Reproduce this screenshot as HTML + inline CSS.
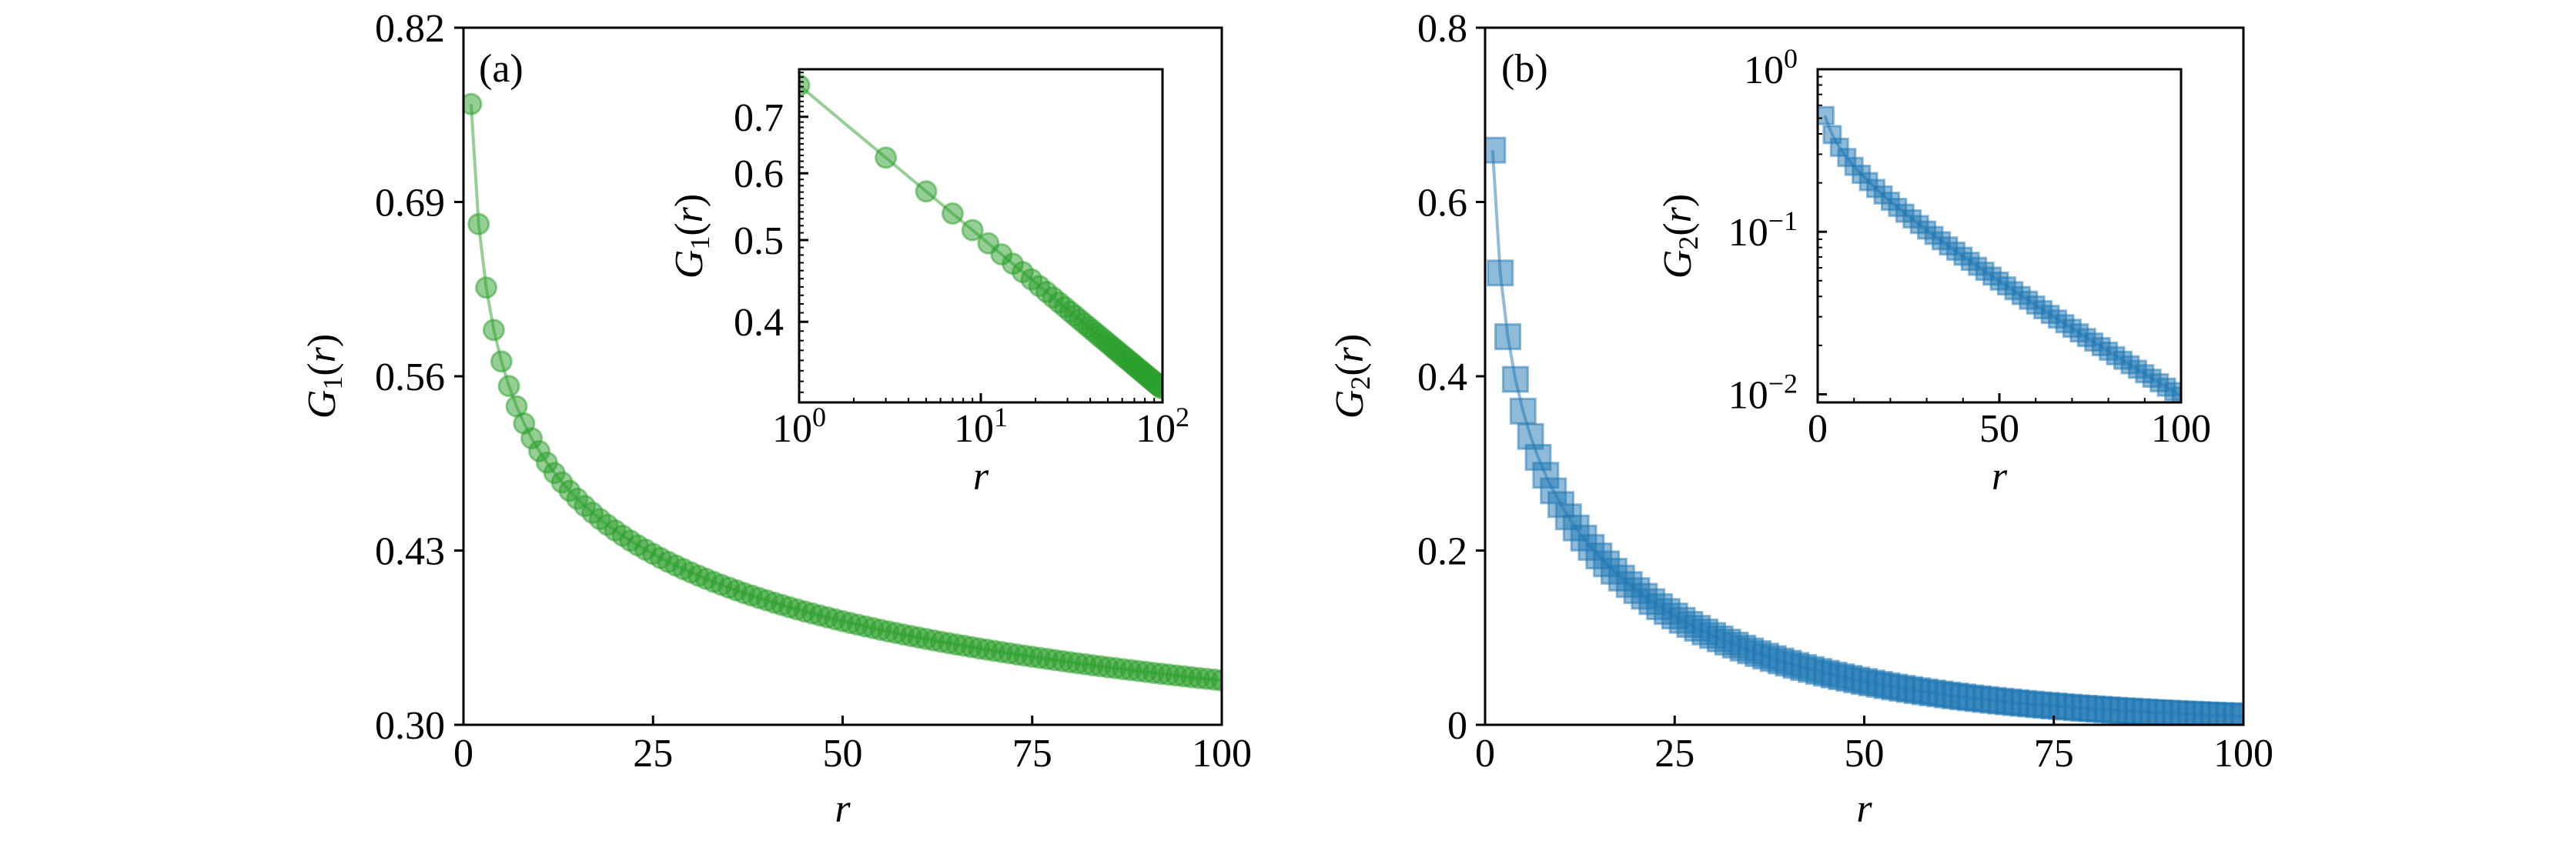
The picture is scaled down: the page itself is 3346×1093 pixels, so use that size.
<!DOCTYPE html>
<html><head><meta charset="utf-8">
<style>
html,body{margin:0;padding:0;background:#fff;}
svg{display:block;}
text{font-family:"Liberation Serif","DejaVu Serif",serif;fill:#000;}
</style></head>
<body>
<svg id="s" width="3346" height="1093" xmlns="http://www.w3.org/2000/svg"></svg>
<script>
var o=[];
function L(x1,y1,x2,y2,w,c){o.push('<line x1="'+x1+'" y1="'+y1+'" x2="'+x2+'" y2="'+y2+'" stroke="'+(c||'#000')+'" stroke-width="'+(w||3)+'"/>');}
function T(x,y,s,anc,fs,extra){o.push('<text x="'+x+'" y="'+y+'" font-size="'+(fs||52)+'" text-anchor="'+(anc||'middle')+'" '+(extra||'')+'>'+s+'</text>');}
function G1(r){return 0.763*Math.pow(r,-0.18);}
function G2(r){return Math.exp(-0.388-0.3057*Math.log(r)-0.02834*r);}
function poly(pts,col){o.push('<polyline points="'+pts.join(' ')+'" fill="none" stroke="'+col+'" stroke-opacity="0.5" stroke-width="4"/>');}
function clipOpen(x0,y0,x1,y1){o.push('<svg x="'+x0+'" y="'+y0+'" width="'+(x1-x0)+'" height="'+(y1-y0)+'" overflow="hidden"><g transform="translate('+(-x0)+','+(-y0)+')">');}
function clipClose(){o.push('</g></svg>');}
var GC='#2ca02c',BC='#1f77b4';

// ===== Panel A =====
var AX0=602,AX1=1587,Y0=36,Y1=942;
function xa(r){return AX0+(AX1-AX0)*r/100;}
function ya(v){return Y1-(v-0.30)/0.52*(Y1-Y0);}
var p=[],m=[];
clipOpen(AX0,Y0,AX1,Y1);
for(var r=1;r<=100;r++){var x=xa(r),y=ya(G1(r));p.push(x.toFixed(1)+','+y.toFixed(1));m.push('<circle cx="'+x.toFixed(1)+'" cy="'+y.toFixed(1)+'" r="13" fill="'+GC+'" fill-opacity="0.5" stroke="'+GC+'" stroke-opacity="0.5" stroke-width="3"/>');}
poly(p,GC);o.push(m.join(''));
clipClose();
[0,25,50,75,100].forEach(function(v){var x=xa(v);L(x,Y1,x,Y1-12);T(x,996,v);});
[0.30,0.43,0.56,0.69,0.82].forEach(function(v){var y=ya(v);L(AX0-12,y,AX0,y);T(578,y+18,v.toFixed(2),'end');});
o.push('<rect x="'+AX0+'" y="'+Y0+'" width="'+(AX1-AX0)+'" height="'+(Y1-Y0)+'" fill="none" stroke="#000" stroke-width="3"/>');
T((AX0+AX1)/2,1068,'<tspan font-style="italic">r</tspan>');
T(0,0,'<tspan font-style="italic">G</tspan><tspan font-size="36" dy="9">1</tspan><tspan dy="-9">(</tspan><tspan font-style="italic">r</tspan>)','middle',52,'transform="translate(435,489) rotate(-90)"');
T(622,106,'(a)','start',52);

// Inset A
var IX0=1038,IX1=1510,IY0=90,IY1=523;
var lt=Math.log(0.797),lb=Math.log(0.321);
function xia(r){return IX0+(IX1-IX0)*Math.log10(r)/2;}
function yia(v){return IY0+(lt-Math.log(v))/(lt-lb)*(IY1-IY0);}
clipOpen(IX0,IY0,IX1,IY1);
p=[];m=[];
for(var r=1;r<=100;r++){var x=xia(r),y=yia(G1(r));p.push(x.toFixed(1)+','+y.toFixed(1));if(r%2==1)m.push('<circle cx="'+x.toFixed(1)+'" cy="'+y.toFixed(1)+'" r="13" fill="'+GC+'" fill-opacity="0.5" stroke="'+GC+'" stroke-opacity="0.5" stroke-width="3"/>');}
poly(p,GC);o.push(m.join(''));
clipClose();
for(var d=0;d<2;d++)for(var k=2;k<=9;k++){var x=xia(k*Math.pow(10,d));L(x,IY1,x,IY1-6,2);}
[0,1,2].forEach(function(d){var x=xia(Math.pow(10,d));L(x,IY1,x,IY1-12);T(x,574,'10<tspan font-size="36" dy="-20">'+d+'</tspan>');});
for(var v=0.33;v<=0.795;v+=0.01){var y=yia(v);L(IX0,y,IX0+6,y,2);}
[0.4,0.5,0.6,0.7].forEach(function(v){var y=yia(v);L(IX0,y,IX0+12,y);T(1018,y+18,v.toFixed(1),'end');});
o.push('<rect x="'+IX0+'" y="'+IY0+'" width="'+(IX1-IX0)+'" height="'+(IY1-IY0)+'" fill="none" stroke="#000" stroke-width="3"/>');
T((IX0+IX1)/2,636,'<tspan font-style="italic">r</tspan>');
T(0,0,'<tspan font-style="italic">G</tspan><tspan font-size="36" dy="9">1</tspan><tspan dy="-9">(</tspan><tspan font-style="italic">r</tspan>)','middle',52,'transform="translate(912,307) rotate(-90)"');

// ===== Panel B =====
var BX0=1929,BX1=2914;
function xb(r){return BX0+(BX1-BX0)*r/100;}
function yb(v){return Y1-v/0.8*(Y1-Y0);}
clipOpen(BX0,Y0,BX1,Y1);
p=[];m=[];var s=32;
for(var r=1;r<=100;r++){var x=xb(r),y=yb(G2(r));p.push(x.toFixed(1)+','+y.toFixed(1));m.push('<rect x="'+(x-s/2).toFixed(1)+'" y="'+(y-s/2).toFixed(1)+'" width="'+s+'" height="'+s+'" fill="'+BC+'" fill-opacity="0.5" stroke="'+BC+'" stroke-opacity="0.5" stroke-width="3"/>');}
poly(p,BC);o.push(m.join(''));
clipClose();
[0,25,50,75,100].forEach(function(v){var x=xb(v);L(x,Y1,x,Y1-12);T(x,996,v);});
[0,0.2,0.4,0.6,0.8].forEach(function(v){var y=yb(v);L(BX0-12,y,BX0,y);T(1906,y+18,v==0?'0':v.toFixed(1),'end');});
o.push('<rect x="'+BX0+'" y="'+Y0+'" width="'+(BX1-BX0)+'" height="'+(Y1-Y0)+'" fill="none" stroke="#000" stroke-width="3"/>');
T((BX0+BX1)/2,1068,'<tspan font-style="italic">r</tspan>');
T(0,0,'<tspan font-style="italic">G</tspan><tspan font-size="36" dy="9">2</tspan><tspan dy="-9">(</tspan><tspan font-style="italic">r</tspan>)','middle',52,'transform="translate(1770,489) rotate(-90)"');
T(1950,106,'(b)','start',52);

// Inset B
var JX0=2361,JX1=2833;
function xib(r){return JX0+(JX1-JX0)*r/100;}
function yib(v){return IY0+(-Math.log10(v))/2.05*(IY1-IY0);}
clipOpen(JX0,IY0,JX1,IY1);
p=[];m=[];s=22;
for(var r=2;r<=100;r++){var x=xib(r),y=yib(G2(r));p.push(x.toFixed(1)+','+y.toFixed(1));if(r%2==0)m.push('<rect x="'+(x-s/2).toFixed(1)+'" y="'+(y-s/2).toFixed(1)+'" width="'+s+'" height="'+s+'" fill="'+BC+'" fill-opacity="0.5" stroke="'+BC+'" stroke-opacity="0.5" stroke-width="3"/>');}
poly(p,BC);o.push(m.join(''));
clipClose();
for(var v=10;v<100;v+=10){var x=xib(v);if(v!=50)L(x,IY1,x,IY1-6,2);}
[0,50,100].forEach(function(v){var x=xib(v);L(x,IY1,x,IY1-12);T(x,574,v);});
for(var d=-2;d<0;d++)for(var k=2;k<=9;k++){var y=yib(k*Math.pow(10,d));L(JX0,y,JX0+6,y,2);}
[0,-1,-2].forEach(function(d){var y=yib(Math.pow(10,d));L(JX0,y,JX0+12,y);T(2335,y+18,'10<tspan font-size="36" dy="-20">'+(d<0?'\u2212'+(-d):d)+'</tspan>','end');});
o.push('<rect x="'+JX0+'" y="'+IY0+'" width="'+(JX1-JX0)+'" height="'+(IY1-IY0)+'" fill="none" stroke="#000" stroke-width="3"/>');
T((JX0+JX1)/2,636,'<tspan font-style="italic">r</tspan>');
T(0,0,'<tspan font-style="italic">G</tspan><tspan font-size="36" dy="9">2</tspan><tspan dy="-9">(</tspan><tspan font-style="italic">r</tspan>)','middle',52,'transform="translate(2196,307) rotate(-90)"');

document.getElementById('s').innerHTML=o.join('');
</script>
</body></html>
